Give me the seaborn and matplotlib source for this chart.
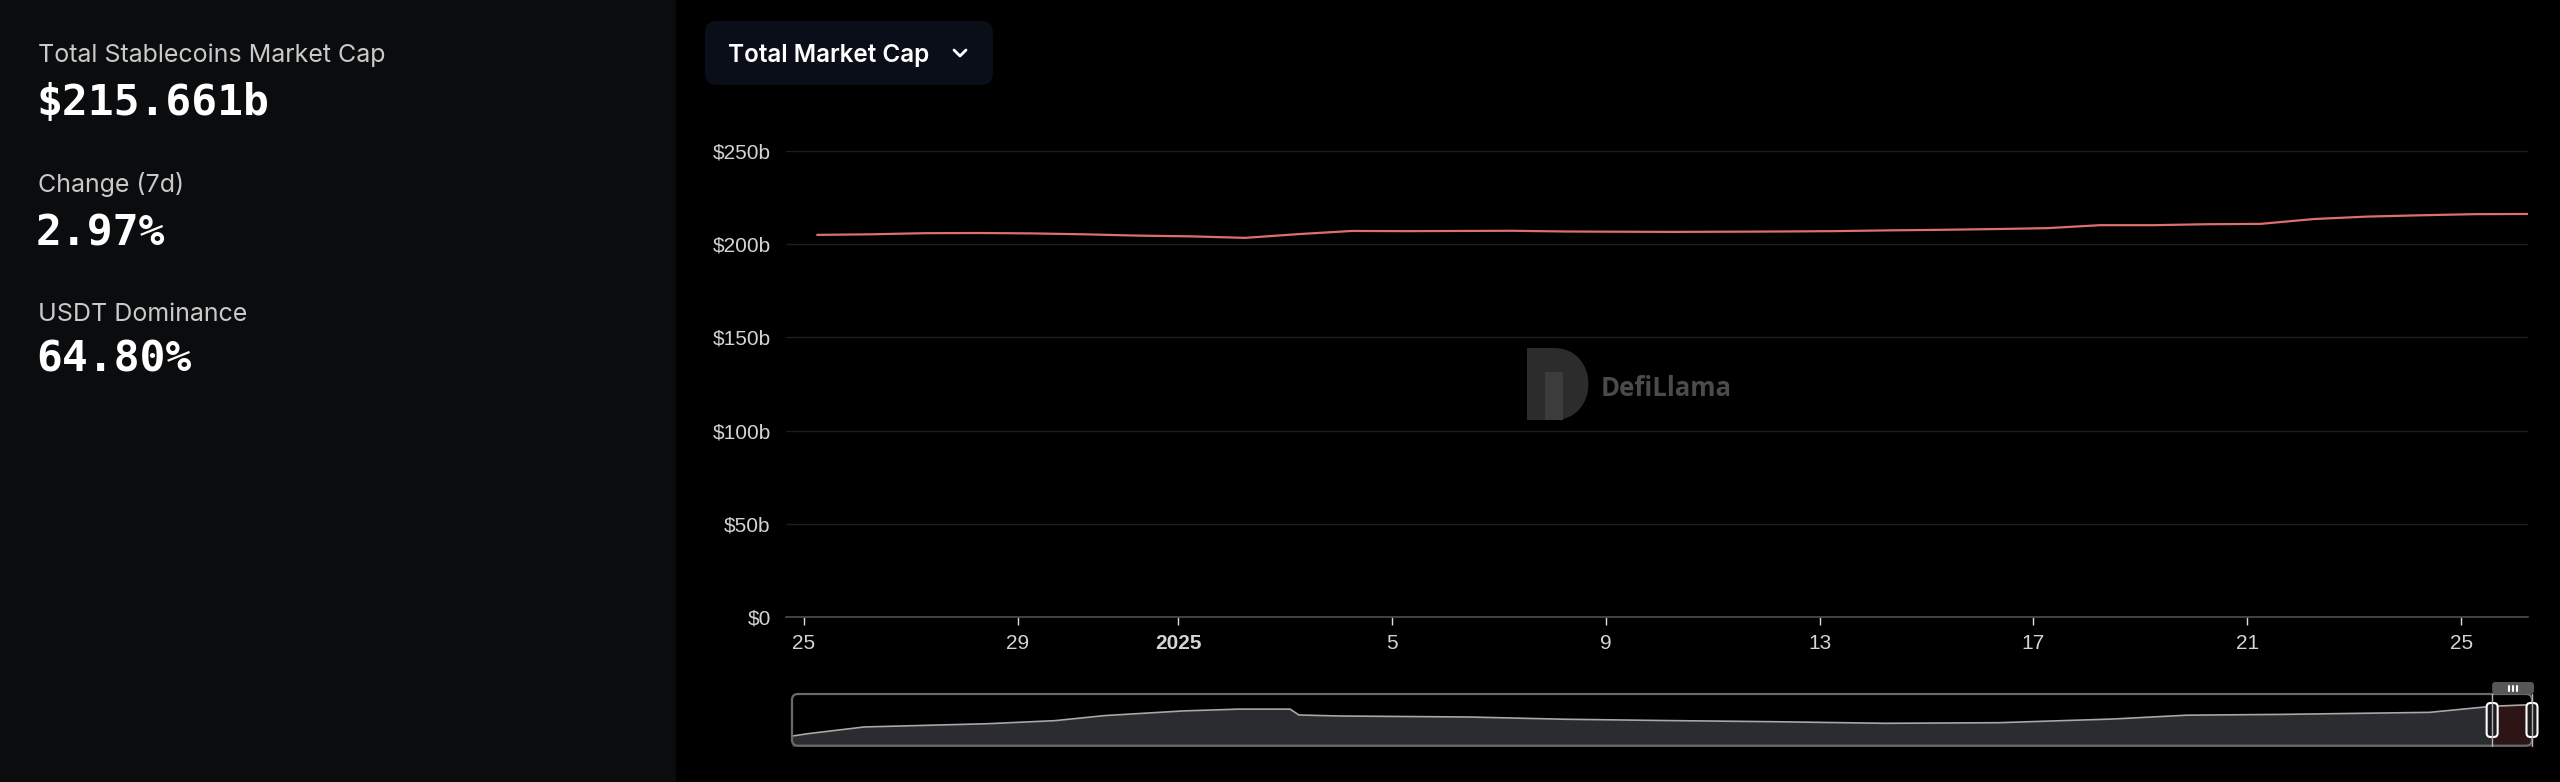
import numpy as np
import pandas as pd
import matplotlib
matplotlib.use("Agg")
import matplotlib.pyplot as plt
import matplotlib.dates as mdates
from matplotlib.patches import FancyBboxPatch, Rectangle, PathPatch
from matplotlib.path import Path
from matplotlib.ticker import FuncFormatter
import seaborn as sns

sns.set_theme(style="dark", rc={"axes.facecolor": "none", "figure.facecolor": "black"})
plt.rcParams['font.family'] = ['Liberation Sans', 'DejaVu Sans']

# ---- data ----
# daily total stablecoin market cap, $b (main chart)
dates = pd.date_range("2024-12-25 06:00", periods=33, freq="D")
mcap = [204.9, 205.2, 205.8, 205.9, 205.7, 205.2, 204.5, 204.1, 203.3, 205.3,
        207.0, 206.9, 207.0, 207.1, 206.7, 206.6, 206.5, 206.6, 206.7, 206.9,
        207.3, 207.6, 208.0, 208.5, 210.1, 210.1, 210.6, 210.8, 213.4, 214.7,
        215.4, 216.0, 216.1]

# full history shown in the brush/minimap, $b
hist_dates = pd.to_datetime([
    "2021-03-31 00:00", "2021-04-13 00:00", "2021-05-28 00:00", "2021-09-04 00:00",
    "2021-10-28 00:00", "2021-12-07 00:00", "2022-02-08 00:00", "2022-03-25 00:00",
    "2022-05-05 00:00", "2022-05-12 00:00", "2022-06-14 00:00", "2022-09-26 00:00",
    "2022-12-12 00:00", "2023-02-25 00:00", "2023-05-27 00:00", "2023-08-26 00:00",
    "2023-11-25 00:00", "2024-02-24 00:00", "2024-04-24 00:00", "2024-07-10 00:00",
    "2024-11-05 00:00", "2024-12-25 06:00", "2025-01-26 06:00"], format="%Y-%m-%d %H:%M")
hist_mcap = [61, 73, 106, 122, 137, 162, 185, 194, 194, 165,
             160, 155, 144, 138, 132, 124, 127, 145, 164, 168,
             178, 208, 216]

x_ticks = pd.to_datetime(["2024-12-25", "2024-12-29", "2025-01-01", "2025-01-05",
                          "2025-01-09", "2025-01-13", "2025-01-17", "2025-01-21",
                          "2025-01-25"])
x_labels = ["25", "29", "2025", "5", "9", "13", "17", "21", "25"]
y_ticks = [0, 50, 100, 150, 200, 250]

stats = [("Total Stablecoins Market Cap", "$215.661b"),
         ("Change (7d)", "2.97%"),
         ("USDT Dominance", "64.80%")]

W, H = 2560, 782
fig = plt.figure(figsize=(W / 100, H / 100), dpi=100)
fig.patch.set_facecolor("black")

# ---- background overlay (pixel coords) ----
bg = fig.add_axes([0, 0, 1, 1], zorder=-1)
bg.set_xlim(0, W)
bg.set_ylim(H, 0)
bg.axis("off")
bg.add_patch(Rectangle((0, 0), 676, H, fc="#0a0c0e", ec="none"))

label_y = [62, 192, 321]
value_y = [115, 245, 372]
for (lab, val), ly, vy in zip(stats, label_y, value_y):
    bg.text(38, ly, lab, color="#c9c9c9", fontsize=18, family=["Inter", "DejaVu Sans"],
            va="baseline", ha="left")
    bg.text(36, vy, val, color="white", fontsize=31, family=["DejaVu Sans Mono"],
            fontweight="bold", va="baseline", ha="left")

# dropdown button
bg.add_patch(FancyBboxPatch((705, 21), 288, 64, boxstyle="round,pad=0,rounding_size=12",
                            fc="#0a0e18", ec="none"))
bg.text(728, 62, "Total Market Cap", color="white", fontsize=17.5,
        family=["Inter", "DejaVu Sans"], fontweight="semibold", va="baseline")
bg.plot([954, 960, 966], [50, 56, 50], color="white", lw=2, solid_capstyle="round")

# watermark
d_path = Path([(1527, 348), (1554, 348), (1600, 348), (1600, 420), (1554, 420),
               (1527, 420), (1527, 348)],
              [Path.MOVETO, Path.LINETO, Path.CURVE4, Path.CURVE4, Path.CURVE4,
               Path.LINETO, Path.CLOSEPOLY])
bg.add_patch(PathPatch(d_path, fc="#2c2c2c", ec="none"))
bg.add_patch(Rectangle((1545, 372), 18, 48, fc="#3c3c3c", ec="none"))
bg.text(1601, 388, "DefiLlama", color="#4b4b4b", fontsize=18.5, fontweight="bold",
        family=["Open Sans", "DejaVu Sans"], va="center", ha="left")

# ---- main chart ----
ax = fig.add_axes([786 / W, 1 - 617.3 / H, 1742 / W, 466.6 / H])
sns.lineplot(x=dates, y=mcap, ax=ax, color="#df6e6e", linewidth=1.6)
ax.set_ylim(0, 250)
ax.set_xlim(dates[0] - pd.Timedelta(hours=14), dates[-1])
ax.set_xlabel("")
ax.set_ylabel("")
ax.set_yticks(y_ticks)
ax.yaxis.set_major_formatter(FuncFormatter(lambda v, p: "$0" if v == 0 else f"${v:.0f}b"))
ax.set_xticks(x_ticks)
ax.set_xticklabels(x_labels)
for lbl in ax.get_xticklabels():
    if lbl.get_text() == "2025":
        lbl.set_fontweight("bold")
ax.yaxis.grid(True, color="#1d1d1d", lw=1)
ax.xaxis.grid(False)
for s in ["top", "right", "left"]:
    ax.spines[s].set_visible(False)
ax.spines["bottom"].set_color("#4f4f4f")
ax.spines["bottom"].set_linewidth(1.2)
ax.tick_params(axis="x", length=6, width=1, color="#dddddd", labelcolor="#d4d4d4",
               labelsize=15, pad=6, bottom=True)
ax.tick_params(axis="y", length=0, pad=11, labelcolor="#d4d4d4", labelsize=15)

# ---- minimap ----
mini = fig.add_axes([792 / W, 1 - 745.7 / H, 1740 / W, 51.7 / H])
mini.fill_between(hist_dates, hist_mcap, 0, color="#2b2c30", lw=0)
sns.lineplot(x=hist_dates, y=hist_mcap, ax=mini, color="#a8a8a8", linewidth=1.2)
sel = hist_dates >= dates[0]
mini.fill_between(hist_dates[sel], np.array(hist_mcap)[sel], 0, color="#2e1515", lw=0)
mini.set_xlim(hist_dates[0], hist_dates[-1])
mini.set_ylim(13.6, 268.5)
mini.axis("off")

# ---- top overlay: minimap frame + brush ----
fg = fig.add_axes([0, 0, 1, 1], zorder=5)
fg.set_xlim(0, W)
fg.set_ylim(H, 0)
fg.axis("off")
fg.add_patch(FancyBboxPatch((792, 694), 1740, 51.7, boxstyle="round,pad=0,rounding_size=6",
                            fc="none", ec="#6a6a6a", lw=1.6))
bx0 = mini.transData.transform((mdates.date2num(dates[0]), 0))[0]
bx1 = mini.transData.transform((mdates.date2num(dates[-1]), 0))[0]
for bx in (bx0, bx1):
    fg.plot([bx, bx], [694, 746], color="#b5b5b5", lw=1)
    fg.add_patch(FancyBboxPatch((bx - 5.5, 703), 11, 34,
                                boxstyle="round,pad=0,rounding_size=4",
                                fc="#1c1c1e", ec="white", lw=1.5))
fg.add_patch(FancyBboxPatch((bx0, 682), bx1 - bx0 + 2, 12,
                            boxstyle="round,pad=0,rounding_size=3", fc="#575757", ec="none"))
cx = (bx0 + bx1) / 2 + 1
for dx in (-4, 0, 4):
    fg.plot([cx + dx, cx + dx], [685.5, 690.5], color="white", lw=1.5)

fig.savefig("out.png", dpi=100, facecolor=fig.get_facecolor())
